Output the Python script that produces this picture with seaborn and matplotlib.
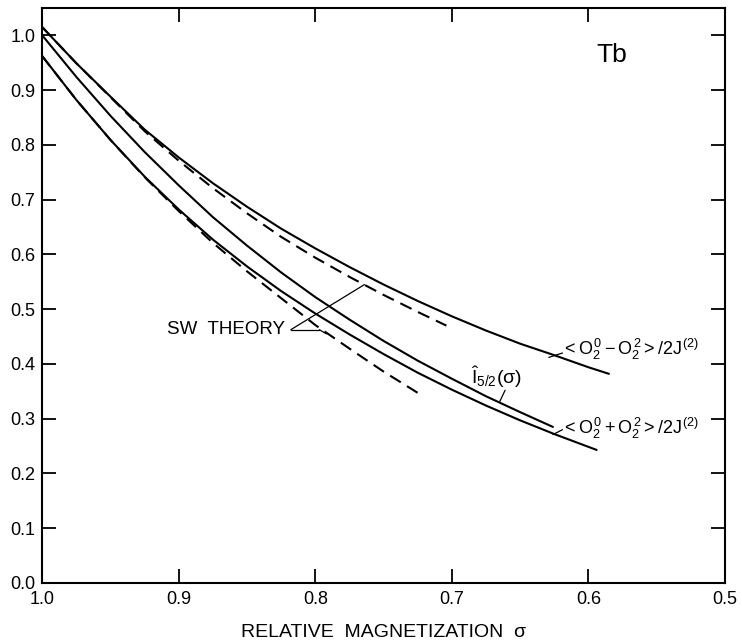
import seaborn as sns
import matplotlib.pyplot as plt

# relative magnetization sigma and the curves
sig_minus = [1.0, 0.975, 0.95, 0.925, 0.9, 0.875, 0.85, 0.825, 0.8, 0.775,
             0.75, 0.725, 0.7, 0.675, 0.65, 0.625, 0.6, 0.585]
o_minus = [1.015, 0.949, 0.888, 0.828, 0.777, 0.730, 0.687, 0.647, 0.611, 0.577,
           0.545, 0.515, 0.487, 0.461, 0.437, 0.416, 0.394, 0.382]

sig_i52 = [1.0, 0.975, 0.95, 0.925, 0.9, 0.875, 0.85, 0.825, 0.8, 0.775,
           0.75, 0.725, 0.7, 0.675, 0.65, 0.626]
i52 = [1.0, 0.924, 0.853, 0.787, 0.726, 0.668, 0.616, 0.567, 0.522, 0.481,
       0.442, 0.406, 0.373, 0.341, 0.312, 0.285]

sig_plus = [1.0, 0.975, 0.95, 0.925, 0.9, 0.875, 0.85, 0.825, 0.8, 0.775,
            0.75, 0.725, 0.7, 0.675, 0.65, 0.625, 0.594]
o_plus = [0.962, 0.882, 0.809, 0.742, 0.682, 0.627, 0.578, 0.533, 0.492, 0.454,
          0.418, 0.384, 0.353, 0.324, 0.297, 0.272, 0.243]

# spin-wave theory (dashed)
sig_sw1 = [1.0, 0.975, 0.95, 0.925, 0.9, 0.875, 0.85, 0.825, 0.8, 0.775,
           0.75, 0.725, 0.704]
sw1 = [1.015, 0.949, 0.887, 0.825, 0.771, 0.721, 0.675, 0.632, 0.594, 0.559,
       0.526, 0.495, 0.470]

sig_sw2 = [1.0, 0.975, 0.95, 0.925, 0.9, 0.875, 0.85, 0.825, 0.8, 0.775,
           0.75, 0.721]
sw2 = [0.962, 0.882, 0.809, 0.741, 0.679, 0.621, 0.569, 0.520, 0.471, 0.428,
       0.386, 0.341]

x_ticks = [1.0, 0.9, 0.8, 0.7, 0.6, 0.5]
y_ticks = [0.0, 0.1, 0.2, 0.3, 0.4, 0.5, 0.6, 0.7, 0.8, 0.9, 1.0]

sns.set_style("ticks")
plt.rcParams['font.family'] = ['Liberation Sans', 'DejaVu Sans']
plt.rcParams['mathtext.fontset'] = 'custom'
plt.rcParams['mathtext.rm'] = 'Liberation Sans'
plt.rcParams['mathtext.it'] = 'Liberation Sans'
plt.rcParams['mathtext.sf'] = 'Liberation Sans'
plt.rcParams['text.color'] = 'black'
plt.rcParams['axes.labelcolor'] = 'black'
plt.rcParams['xtick.color'] = 'black'
plt.rcParams['ytick.color'] = 'black'

fig = plt.figure(figsize=(7.42, 6.41), dpi=100)
ax = fig.add_axes([0.057, 0.0905, 0.92, 0.897])

for xs, ys in [(sig_minus, o_minus), (sig_i52, i52), (sig_plus, o_plus)]:
    sns.lineplot(x=xs, y=ys, ax=ax, color="black", linewidth=1.5, sort=False)

for xs, ys in [(sig_sw1, sw1), (sig_sw2, sw2)]:
    sns.lineplot(x=xs, y=ys, ax=ax, color="black", linewidth=1.5,
                 linestyle=(0, (6, 3.5)), sort=False)

ax.set_xlim(1.0, 0.5)
ax.set_ylim(0.0, 1.05)
ax.set_xticks(x_ticks)
ax.set_xticklabels(["1.0", "0.9", "0.8", "0.7", "0.6", "0.5"])
ax.set_yticks(y_ticks)
ax.set_yticklabels([f"{v:.1f}" for v in y_ticks])

ax.tick_params(direction="in", length=10, width=1.3, labelsize=13,
               top=True, right=True, color="black", labelcolor="black")
ax.tick_params(axis="x", pad=6)
ax.tick_params(axis="y", pad=5)
for s in ax.spines.values():
    s.set_linewidth(1.5)
    s.set_color("black")

ax.set_xlabel("RELATIVE  MAGNETIZATION  \u03c3", fontsize=14, labelpad=11)

ax.text(0.583, 0.965, "Tb", fontsize=19, ha="center", va="center")

# SW theory label with pointers
ax.text(0.822, 0.4625, "SW  THEORY", fontsize=13.5, ha="right", va="center")
ax.plot([0.818, 0.764], [0.4625, 0.545], color="black", linewidth=0.9)
ax.plot([0.818, 0.797], [0.4625, 0.4625], color="black", linewidth=0.9)
ax.plot([0.797, 0.792], [0.4625, 0.455], color="black", linewidth=0.9)

ax.text(0.667, 0.376, r"$\hat{I}_{5/2}(\sigma)$", fontsize=14,
        ha="center", va="center")
ax.plot([0.661, 0.665], [0.352, 0.331], color="black", linewidth=0.9)

ax.text(0.619, 0.427, r"$<O_2^0 - O_2^2>/2J^{(2)}$", fontsize=13,
        ha="left", va="center")
ax.plot([0.619, 0.629], [0.420, 0.412], color="black", linewidth=0.9)

ax.text(0.619, 0.283, r"$<O_2^0 + O_2^2>/2J^{(2)}$", fontsize=13,
        ha="left", va="center")
ax.plot([0.619, 0.626], [0.280, 0.271], color="black", linewidth=0.9)

fig.savefig("out.png", dpi=100)
